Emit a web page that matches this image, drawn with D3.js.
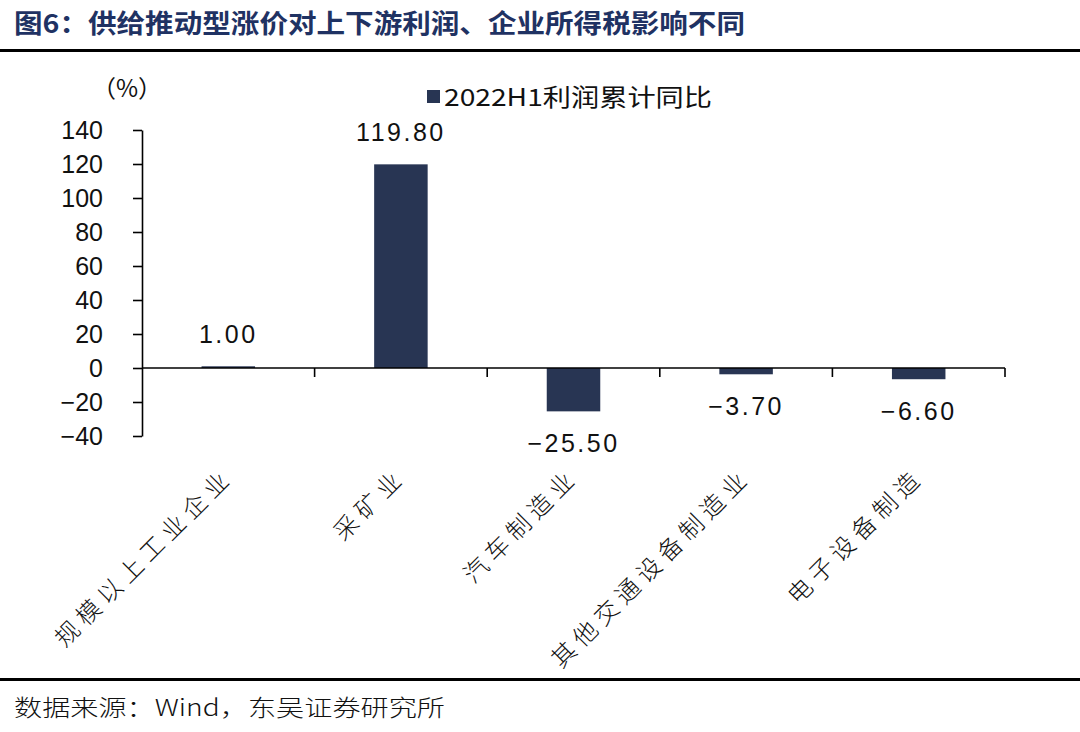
<!DOCTYPE html>
<html><head><meta charset="utf-8">
<script src="https://cdn.jsdelivr.net/npm/d3@7"></script>
<style>body{margin:0;background:#fff}svg{display:block}</style>
</head><body><svg id="c" width="1080" height="732"></svg>
<script>
const categories = ["规模以上工业企业","采矿业","汽车制造业","其他交通设备制造业","电子设备制造"];
const values = [1.00, 119.80, -25.50, -3.70, -6.60];
const yTicks = [-40,-20,0,20,40,60,80,100,120,140];
const seriesName = "2022H1利润累计同比";
const titleText = "图6：供给推动型涨价对上下游利润、企业所得税影响不同";
const sourceText = "数据来源：Wind，东吴证券研究所";
const unitText = "（%）";

const svg = d3.select("#c");
const navy = "#283553";
const cjk = "'Noto Sans CJK SC', sans-serif";
const num = "'Liberation Sans', Arial, sans-serif";

// title & rules
svg.append("text").attr("x",14).attr("y",33).attr("font-family",cjk).attr("font-weight",700)
  .attr("font-size",26).attr("fill","#1f3263").attr("textLength",731).attr("lengthAdjust","spacingAndGlyphs").text(titleText);
svg.append("rect").attr("x",0).attr("y",49).attr("width",1080).attr("height",3).attr("fill","#000");
svg.append("rect").attr("x",0).attr("y",678).attr("width",1080).attr("height",3).attr("fill","#000");
svg.append("text").attr("x",14).attr("y",716).attr("font-family","'Noto Sans CJK SC', serif").attr("font-weight",300)
  .attr("font-size",23).attr("fill","#111").attr("textLength",431).attr("lengthAdjust","spacingAndGlyphs").text(sourceText);

const y = d3.scaleLinear().domain([-40,140]).range([436,130]);
const x = d3.scaleBand().domain(categories).range([142,1005]).paddingInner(0.69).paddingOuter(0.345);

// y axis
const ya = svg.append("g").attr("transform","translate(142,0)")
  .call(d3.axisLeft(y).tickValues(yTicks).tickSize(9).tickPadding(30).tickSizeOuter(0));
ya.select(".domain").attr("stroke","#000").attr("stroke-width",1.6);
ya.selectAll(".tick line").attr("stroke","#000").attr("stroke-width",1.6);
ya.selectAll(".tick text").attr("font-family",num).attr("font-size",25).attr("fill","#111");

// unit
svg.append("text").attr("x",127).attr("y",97).attr("text-anchor","middle").attr("font-family",cjk)
  .attr("font-size",24).attr("fill","#111").text(unitText);

// bars
svg.append("g").selectAll("rect").data(values).join("rect")
  .attr("x",(d,i)=>x(categories[i])).attr("width",x.bandwidth())
  .attr("y",d=>y(Math.max(0,d))).attr("height",d=>Math.abs(y(d)-y(0)))
  .attr("fill",navy);

// x axis line + ticks at category boundaries
const y0 = y(0);
svg.append("line").attr("x1",142).attr("x2",1005).attr("y1",y0).attr("y2",y0).attr("stroke","#000").attr("stroke-width",1.6);
svg.append("g").selectAll("line").data(categories).join("line")
  .attr("x1",d=>x(d)+x.bandwidth()+(x.step()-x.bandwidth())/2)
  .attr("x2",d=>x(d)+x.bandwidth()+(x.step()-x.bandwidth())/2)
  .attr("y1",y0).attr("y2",y0+9).attr("stroke","#000").attr("stroke-width",1.6);

// data labels
svg.append("g").selectAll("text").data(values).join("text")
  .attr("x",(d,i)=>x(categories[i])+x.bandwidth()/2)
  .attr("y",d=> d>=0 ? y(d)-23 : y(d)+41)
  .attr("text-anchor","middle").attr("font-family",num).attr("font-size",25).attr("fill","#111")
  .attr("letter-spacing",2.5)
  .text(d=>d3.format(".2f")(d).replace("-","−"));

// category labels
svg.append("g").selectAll("text").data(categories).join("text")
  .attr("transform",d=>`translate(${x(d)+x.bandwidth()/2-1},471) rotate(-45)`)
  .attr("text-anchor","end").attr("dominant-baseline","central")
  .attr("font-family",cjk).attr("font-weight",300).attr("font-size",24).attr("letter-spacing",6)
  .attr("fill","#111").text(d=>d);

// legend
svg.append("rect").attr("x",427).attr("y",90).attr("width",13).attr("height",13).attr("fill",navy);
svg.append("text").attr("x",444).attr("y",106).attr("font-family",cjk).attr("font-size",24).attr("fill","#111")
  .attr("textLength",268).attr("lengthAdjust","spacingAndGlyphs").text(seriesName);
</script></body></html>
